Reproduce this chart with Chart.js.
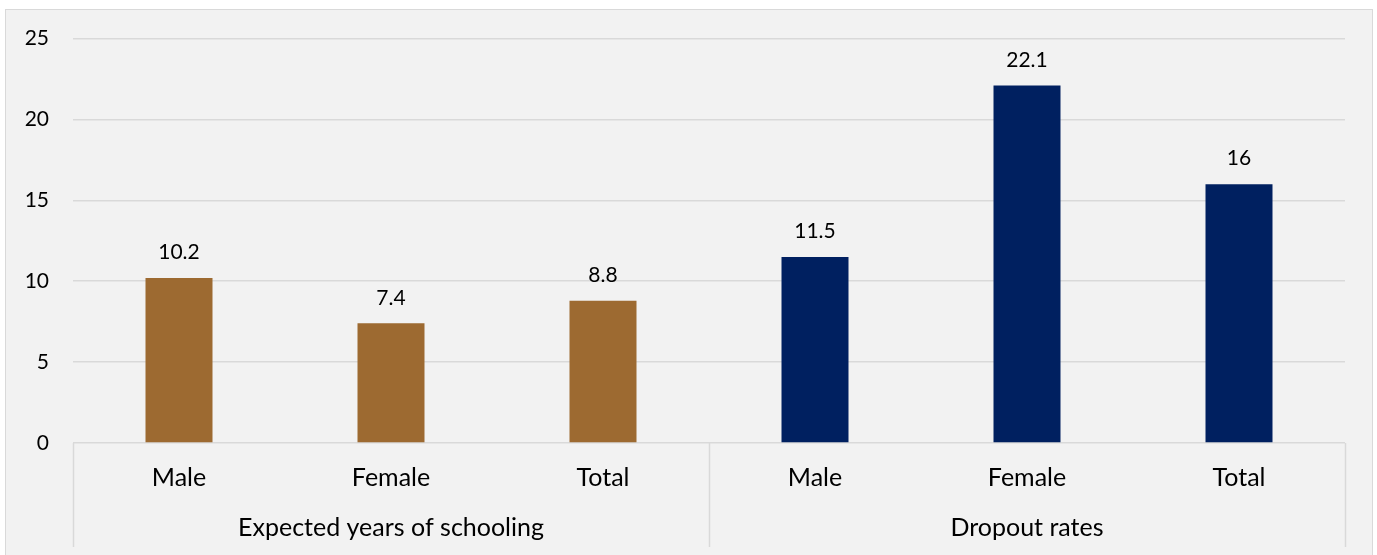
<!DOCTYPE html>
<html>
<head>
<meta charset="utf-8">
<script src="https://cdn.jsdelivr.net/npm/chart.js@4.4.0/dist/chart.umd.min.js"></script>
<style>
  html, body { margin: 0; padding: 0; background: #ffffff; }
  #frame {
    position: absolute; left: 5px; top: 9px;
    width: 1366px; height: 550px;
    background: #f2f2f2; border: 1px solid #d9d9d9;
  }
  #chart { display: block; position: absolute; left: 0; top: -8px; }
</style>
</head>
<body>
<div id="frame"><canvas id="chart" width="1366" height="553"></canvas></div>
<script>
  // categories and their groups
  var categories = ['Male', 'Female', 'Total', 'Male', 'Female', 'Total'];
  var groups = ['Expected years of schooling', 'Dropout rates'];
  var groupSizes = [3, 3];

  // values
  var values = [10.2, 7.4, 8.8, 11.5, 22.1, 16];
  var barColors = ['#9d6a31', '#9d6a31', '#9d6a31', '#002060', '#002060', '#002060'];

  var yTicks = [0, 5, 10, 15, 20, 25];

  var FONT = 'Lato, "Open Sans", sans-serif';

  // value labels above bars + two level category axis
  var extrasPlugin = {
    id: 'extras',
    afterDatasetsDraw: function(chart) {
      var ctx = chart.ctx;
      var meta = chart.getDatasetMeta(0);
      ctx.save();
      ctx.font = '21px ' + FONT;
      ctx.fillStyle = '#000000';
      ctx.textAlign = 'center';
      ctx.textBaseline = 'bottom';
      meta.data.forEach(function(bar, i) {
        ctx.fillText(String(values[i]), bar.x, bar.y - 15);
      });
      ctx.restore();
    },
    afterDraw: function(chart) {
      var ctx = chart.ctx;
      var x = chart.scales.x;
      var area = chart.chartArea;
      var step = x.getPixelForValue(1) - x.getPixelForValue(0);
      var bottom = x.bottom;
      ctx.save();
      ctx.strokeStyle = '#d9d9d9';
      ctx.lineWidth = 1.5;
      // separators
      var idx = 0;
      var edges = [0];
      groupSizes.forEach(function(n) { idx += n; edges.push(idx); });
      edges.forEach(function(e) {
        var px = Math.round(x.getPixelForValue(0) - step / 2 + e * step) + 0.5;
        ctx.beginPath();
        ctx.moveTo(px, area.bottom);
        ctx.lineTo(px, bottom);
        ctx.stroke();
      });
      // group names
      ctx.font = '25px ' + FONT;
      ctx.fillStyle = '#000000';
      ctx.textAlign = 'center';
      ctx.textBaseline = 'middle';
      groups.forEach(function(g, i) {
        var start = edges[i], end = edges[i + 1];
        var cx = x.getPixelForValue(0) - step / 2 + (start + end) / 2 * step;
        ctx.fillText(g, cx, area.bottom + 85);
      });
      ctx.restore();
    }
  };

  new Chart(document.getElementById('chart'), {
    type: 'bar',
    data: {
      labels: categories,
      datasets: [{
        data: values,
        backgroundColor: barColors,
        categoryPercentage: 1,
        barPercentage: 0.316
      }]
    },
    options: {
      responsive: false,
      animation: false,
      layout: { padding: { top: 0, right: 27, bottom: 8, left: 0 } },
      plugins: {
        legend: { display: false },
        tooltip: { enabled: false }
      },
      scales: {
        x: {
          grid: { display: false, drawTicks: false },
          border: { display: false },
          ticks: {
            color: '#000000',
            font: { family: FONT, size: 25 },
            padding: 20
          },
          afterFit: function(scale) { scale.height = 104; }
        },
        y: {
          min: 0,
          max: 25,
          afterBuildTicks: function(scale) {
            scale.ticks = yTicks.map(function(v) { return { value: v }; });
          },
          grid: { color: '#d9d9d9', lineWidth: 1.5, drawTicks: false },
          border: { display: false },
          ticks: {
            color: '#000000',
            font: { family: FONT, size: 21 },
            padding: 24
          },
          afterFit: function(scale) { scale.width = 67; }
        }
      }
    },
    plugins: [extrasPlugin]
  });
</script>
</body>
</html>
